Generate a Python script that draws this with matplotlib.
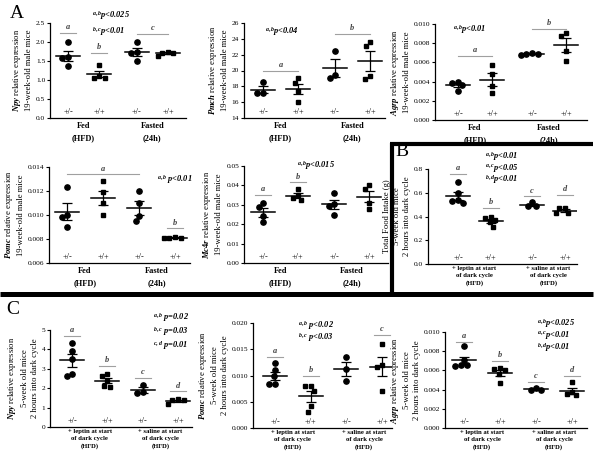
import numpy as np
import matplotlib
matplotlib.use("Agg")
import matplotlib.pyplot as plt
from matplotlib.lines import Line2D

plt.rcParams['font.family'] = ['Liberation Serif', 'DejaVu Serif']
plt.rcParams['font.weight'] = 'bold'
plt.rcParams['mathtext.fontset'] = 'custom'
plt.rcParams['mathtext.rm'] = 'Liberation Serif:bold'
plt.rcParams['mathtext.it'] = 'Liberation Serif:italic:bold'
plt.rcParams['mathtext.bf'] = 'Liberation Serif:bold'
plt.rcParams['axes.linewidth'] = 0.9

W, H = 601, 467

genotypes = ['+/-', '+/+', '+/-', '+/+']
cond_A = ['Fed\n(HFD)', 'Fasted\n(24h)']
cond_BC = ['+ leptin at start\nof dark cycle\n(HFD)', '+ saline at start\nof dark cycle\n(HFD)']

# A: 19-week-old male mice, fed vs fasted
npy_A = [[2.0, 1.6, 1.58, 1.37], [1.4, 1.1, 1.05, 1.05],
         [2.0, 1.72, 1.75, 1.5], [1.72, 1.75, 1.7, 1.63]]
pmch_A = [[18.5, 17.1, 17.2], [19.0, 18.4, 17.4, 16.0],
          [22.5, 19.4, 19.0], [23.55, 23.05, 19.25, 18.9]]
agrp_A = [[0.0039, 0.0030, 0.0040, 0.0036], [0.0057, 0.0048, 0.0035, 0.0028],
          [0.0069, 0.0068, 0.0070, 0.0069], [0.0088, 0.0091, 0.0072, 0.0061]]
pomc_A = [[0.0123, 0.0100, 0.0098, 0.0090], [0.0128, 0.0119, 0.0110, 0.0100],
          [0.0120, 0.0110, 0.0099, 0.0095], [0.0081, 0.0081, 0.0082, 0.0081]]
mc4r_A = [[0.031, 0.029, 0.024, 0.021], [0.038, 0.035, 0.0325, 0.0335],
          [0.036, 0.0305, 0.0295, 0.025], [0.040, 0.038, 0.031, 0.028]]
# B: food intake, 5-week old mice
food_B = [[0.69, 0.60, 0.54, 0.53, 0.51], [0.39, 0.40, 0.37, 0.35, 0.31],
          [0.52, 0.49, 0.485], [0.47, 0.47, 0.43, 0.43]]
# C: 5-week old mice, 2 h into dark cycle
npy_C = [[4.35, 3.9, 3.5, 2.75, 2.65], [2.72, 2.64, 2.36, 2.1, 2.07],
         [2.19, 1.76, 1.78], [1.38, 1.45, 1.2, 1.4]]
pomc_C = [[0.0123, 0.0110, 0.0099, 0.0083, 0.0083], [0.0080, 0.0080, 0.0071, 0.0041, 0.0031],
          [0.0135, 0.0113, 0.0090], [0.0160, 0.0120, 0.0116, 0.0071]]
agrp_C = [[0.0085, 0.0071, 0.0066, 0.0066, 0.0065], [0.0062, 0.0060, 0.0061, 0.0056, 0.0047],
          [0.0042, 0.0040, 0.0040], [0.0048, 0.0038, 0.0034, 0.0035]]

lab19 = '\n19-week-old male mice'
lab5 = '\n5-week old mice\n2 hours into dark cycle'

# rect = (left, top, right, bottom) in px; grp = px of first/last group; gap between pairs
panels = [
    dict(data=npy_A, ylim=(0, 2.5), yticks=np.arange(0, 2.6, 0.5), fmt='%.1f',
         ylabel=r'$\mathit{Npy}$ relative expression' + lab19, cond=cond_A,
         rect=(50, 23, 186, 118), grp=(68, 168), gap=1.2,
         marks=[('a', 0, 0, 2.25), ('b', 1, 1, 1.72), ('c', 2, 3, 2.22)],
         ptext=[(92, 15, r'$^{a,b}$p<0.025'), (92, 32, r'$^{b,c}$p<0.01')]),
    dict(data=pmch_A, ylim=(14, 26), yticks=np.arange(14, 27, 2), fmt='%d',
         ylabel=r'$\mathit{Pmch}$ relative expression' + lab19, cond=cond_A,
         rect=(244, 23, 385, 118), grp=(263, 370), gap=1.03,
         marks=[('a', 0, 1, 20.0), ('b', 2, 3, 24.6)],
         ptext=[(265, 32, r'$^{a,b}$p<0.04')]),
    dict(data=agrp_A, ylim=(0, 0.010), yticks=np.arange(0, 0.0101, 0.002), fmt='%.3f',
         ylabel=r'$\mathit{Agrp}$ relative expression' + lab19, cond=cond_A,
         rect=(435, 24, 587, 120), grp=(458, 566), gap=1.18,
         marks=[('a', 0, 1, 0.0067), ('b', 2, 3, 0.0095)],
         ptext=[(453, 29, r'$^{a,b}$p<0.01')]),
    dict(data=pomc_A, ylim=(0.006, 0.014), yticks=np.arange(0.006, 0.0141, 0.002), fmt='%.3f',
         ylabel=r'$\mathit{Pomc}$ relative expression' + lab19, cond=cond_A,
         rect=(49, 167, 190, 263), grp=(67, 175), gap=1.0,
         marks=[('a', 0, 2, 0.0134), ('b', 3, 3, 0.0089)],
         ptext=[(157, 179, r'$^{a,b}$ p<0.01')]),
    dict(data=mc4r_A, ylim=(0, 0.05), yticks=np.arange(0, 0.051, 0.01), fmt='%.2f',
         ylabel=r'$\mathit{Mc4r}$ relative expression' + lab19, cond=cond_A,
         rect=(244, 166, 388, 263), grp=(263, 369), gap=1.05,
         marks=[('a', 0, 0, 0.035), ('b', 1, 1, 0.0416)],
         ptext=[(297, 165, r'$^{a,b}$p<0.015')]),
    dict(data=food_B, ylim=(0, 0.8), yticks=np.arange(0, 0.81, 0.2), fmt='%.1f',
         ylabel='Total Food Intake (g)' + lab5, cond=cond_BC,
         rect=(428, 169, 577, 264), grp=(458, 565), gap=1.26,
         marks=[('a', 0, 0, 0.758), ('b', 1, 1, 0.472), ('c', 2, 2, 0.57), ('d', 3, 3, 0.584)],
         ptext=[(485, 156, r'$^{a,b}$p<0.01'), (485, 168, r'$^{a,c}$p<0.05'),
                (485, 180, r'$^{b,d}$p<0.01')]),
    dict(data=npy_C, ylim=(0, 5), yticks=np.arange(0, 6, 1), fmt='%d',
         ylabel=r'$\mathit{Npy}$ relative expression' + lab5, cond=cond_BC,
         rect=(50, 330, 192, 427), grp=(72, 178), gap=1.0,
         marks=[('a', 0, 0, 4.7), ('b', 1, 1, 3.16), ('c', 2, 2, 2.55), ('d', 3, 3, 1.84)],
         ptext=[(153, 318, r'$^{a,b}$ p=0.02'), (153, 332, r'$^{b,c}$ p=0.03'),
                (153, 345, r'$^{c,d}$ p=0.01')]),
    dict(data=pomc_C, ylim=(0, 0.020), yticks=np.arange(0, 0.0201, 0.005), fmt='%.3f',
         ylabel=r'$\mathit{Pomc}$ relative expression' + lab5, cond=cond_BC,
         rect=(253, 323, 392, 428), grp=(275, 382), gap=1.0,
         marks=[('a', 0, 0, 0.0136), ('b', 1, 1, 0.0099), ('c', 3, 3, 0.0178)],
         ptext=[(298, 325, r'$^{a,b}$ p<0.02'), (298, 338, r'$^{b,c}$ p<0.03')]),
    dict(data=agrp_C, ylim=(0, 0.010), yticks=np.arange(0, 0.0101, 0.002), fmt='%.3f',
         ylabel=r'$\mathit{Agrp}$ relative expression' + lab5, cond=cond_BC,
         rect=(445, 332, 587, 428), grp=(464, 572), gap=1.0,
         marks=[('a', 0, 0, 0.0090), ('b', 1, 1, 0.0070), ('c', 2, 2, 0.0048), ('d', 3, 3, 0.0054)],
         ptext=[(537, 323, r'$^{a,b}$p<0.025'), (537, 335, r'$^{a,c}$p<0.01'),
                (537, 347, r'$^{b,d}$p<0.01')]),
]

fig = plt.figure(figsize=(W / 100, H / 100), dpi=100)

MS = 3.8
D = 5.8  # min distance between marker centres in px


def swarm(vals, ppu_x, ppu_y):
    # simple beeswarm: each point goes as close to the centre as it can without overlap
    ys = np.asarray(vals) * ppu_y
    order = np.argsort(-ys)
    placed = []
    offs = np.zeros(len(ys))
    for i in order:
        bad = []
        for xj, yj in placed:
            dy = abs(ys[i] - yj)
            if dy < D:
                w = np.sqrt(D ** 2 - dy ** 2)
                bad.append((xj - w, xj + w))
        cands = [0.0] + [e for b in bad for e in b]
        cands.sort(key=abs)
        for c in cands:
            if all(not (lo + 1e-6 < c < hi - 1e-6) for lo, hi in bad):
                offs[i] = c
                break
        placed.append((offs[i], ys[i]))
    return offs / ppu_x


for p in panels:
    x0, top, x1, bot = p['rect']
    ax = fig.add_axes([x0 / W, 1 - bot / H, (x1 - x0) / W, (bot - top) / H])
    g = p['gap']
    pos = np.array([0, 1, 1 + g, 2 + g])
    f, l = p['grp']
    s = (l - f) / (2 + g)
    ax.set_xlim((x0 - f) / s, (x1 - f) / s)
    ax.set_ylim(*p['ylim'])
    ppu_y = (bot - top) / (p['ylim'][1] - p['ylim'][0])
    hw = 12 / s  # half width of the mean line

    for i, vals in enumerate(p['data']):
        vals = np.array(vals)
        m = vals.mean()
        sem = vals.std(ddof=1) / np.sqrt(len(vals))
        xs = pos[i] + swarm(vals, s, ppu_y)
        ax.plot(xs, vals, ls='none', marker='o' if i % 2 == 0 else 's',
                ms=MS if i % 2 == 0 else MS * 0.9, color='black', zorder=3)
        ax.plot([pos[i] - hw, pos[i] + hw], [m, m], color='black', lw=1.1, zorder=4)
        ax.errorbar(pos[i], m, yerr=sem, color='black', lw=0.9, capsize=3.4,
                    capthick=0.9, zorder=4)
        ax.annotate(genotypes[i], (pos[i], 0), xycoords=('data', 'axes fraction'),
                    xytext=(0, 4.5), textcoords='offset points', ha='center',
                    va='center', fontsize=6, fontweight='normal')

    for letter, ga, gb, yv in p['marks']:
        xa = pos[ga] - (8 / s if ga == gb else 0)
        xb = pos[gb] + (8 / s if ga == gb else 0)
        ax.plot([xa, xb], [yv, yv], color='#a0a0a0', lw=0.8)
        ax.annotate(letter, ((xa + xb) / 2, yv), xytext=(0, 1.2), textcoords='offset points',
                    ha='center', va='bottom', fontsize=6, style='italic', color='#444444')

    ax.set_yticks(p['yticks'])
    ax.set_yticklabels([p['fmt'] % t for t in p['yticks']], fontsize=5.3, fontweight='normal')
    ax.tick_params(axis='y', length=2.5, width=0.8, pad=1)
    ax.set_xticks([(pos[0] + pos[1]) / 2, (pos[2] + pos[3]) / 2])
    if p['cond'] is cond_A:
        ax.set_xticklabels(p['cond'], fontsize=6, linespacing=1.6)
        ax.tick_params(axis='x', length=0, pad=3)
    else:
        ax.set_xticklabels(p['cond'], fontsize=4.8, linespacing=1.45)
        ax.tick_params(axis='x', length=0, pad=1.5)
    ax.set_ylabel(p['ylabel'], fontsize=6.2, linespacing=1.35, labelpad=2)
    for sp in ['top', 'right']:
        ax.spines[sp].set_visible(False)

    for xp, yp, txt in p['ptext']:
        fig.text(xp / W, 1 - yp / H, txt, fontsize=6, style='italic', va='center', ha='left')

# panel letters
fig.text(17 / W, 1 - 14 / H, 'A', fontsize=14, fontweight='normal', ha='center', va='center')
fig.text(402 / W, 1 - 152 / H, 'B', fontsize=14, fontweight='normal', ha='center', va='center')
fig.text(13 / W, 1 - 310 / H, 'C', fontsize=14, fontweight='normal', ha='center', va='center')

# thick frame lines separating the panels
frame = [((0, 593), (293.5, 293.5), 3.6), ((390, 593), (144, 144), 3.0),
         ((392, 392), (142.5, 295), 3.0)]
for xs, ys, lw in frame:
    fig.add_artist(Line2D([x / W for x in xs], [1 - y / H for y in ys],
                          color='black', lw=lw, solid_capstyle='butt'))

fig.savefig('out.png', dpi=100)
